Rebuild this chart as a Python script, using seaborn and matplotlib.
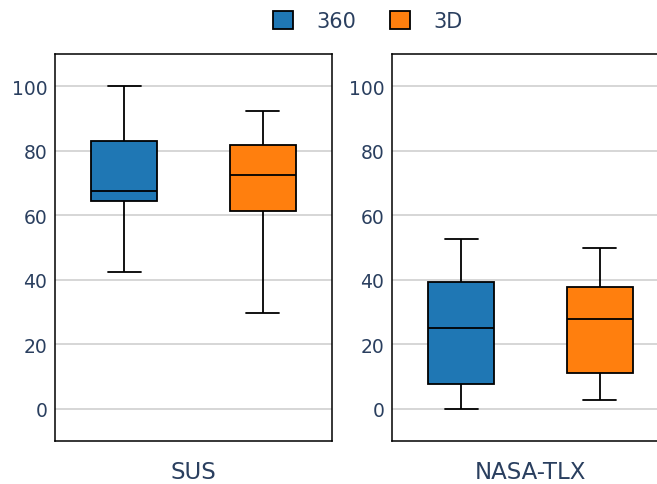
import matplotlib
matplotlib.use("Agg")
import matplotlib.pyplot as plt
from matplotlib.patches import Patch
import pandas as pd
import seaborn as sns

# five-number summaries: min, q1, median, q3, max
MEASURES = ["SUS", "NASA-TLX"]
CONDITIONS = ["360", "3D"]
SUS_360 = [42.5, 64.3, 67.5, 83.0, 100.0]
SUS_3D = [29.8, 61.2, 72.4, 81.7, 92.2]
TLX_360 = [0.0, 7.8, 25.0, 39.4, 52.7]
TLX_3D = [2.8, 11.2, 27.8, 37.9, 50.0]

COLORS = {"360": "#1f77b4", "3D": "#ff7f0e"}
TEXT = "#2a3f5f"

rows = []
for measure, cond, vals in [("SUS", "360", SUS_360), ("SUS", "3D", SUS_3D),
                            ("NASA-TLX", "360", TLX_360), ("NASA-TLX", "3D", TLX_3D)]:
    for v in vals:
        rows.append({"measure": measure, "condition": cond, "value": v})
df = pd.DataFrame(rows)

sns.set_style("white")
plt.rcParams["font.family"] = ["DejaVu Sans"]

fig = plt.figure(figsize=(6.57, 4.85), dpi=100)
W, H = 657, 485
positions = [55, 392]

for x0, measure in zip(positions, MEASURES):
    ax = fig.add_axes([x0 / W, 1 - 442 / H, 277 / W, 387 / H])
    sub = df[df["measure"] == measure]
    sns.boxplot(data=sub, x="measure", y="value", hue="condition", hue_order=CONDITIONS,
                palette=COLORS, width=1.0, gap=0.52, whis=(0, 100), linecolor="black",
                linewidth=1.3, saturation=1, legend=False, ax=ax)
    ax.set_xlim(-0.5, 0.5)
    ax.set_ylim(-10, 110)
    ax.set_yticks(range(0, 101, 20))
    ax.yaxis.grid(True, color="#cccccc", linewidth=1.1)
    ax.set_axisbelow(True)
    ax.set_xlabel("")
    ax.set_ylabel("")
    ax.tick_params(axis="y", length=0, pad=5.5, labelsize=13.5, labelcolor=TEXT)
    ax.tick_params(axis="x", length=0, pad=14, labelsize=16.5, labelcolor=TEXT)
    for s in ax.spines.values():
        s.set_color("black")
        s.set_linewidth(1.1)

handles = [Patch(facecolor=COLORS[c], edgecolor="black", linewidth=1.3, label=c) for c in CONDITIONS]
leg = fig.legend(handles=handles, loc="center", bbox_to_anchor=(0.56, 1 - 22 / H), ncol=2,
                 frameon=False, fontsize=15, handlelength=0.96, handleheight=0.96,
                 handletextpad=1.15, columnspacing=1.6)
for t in leg.get_texts():
    t.set_color(TEXT)

fig.savefig("out.png", dpi=100)
